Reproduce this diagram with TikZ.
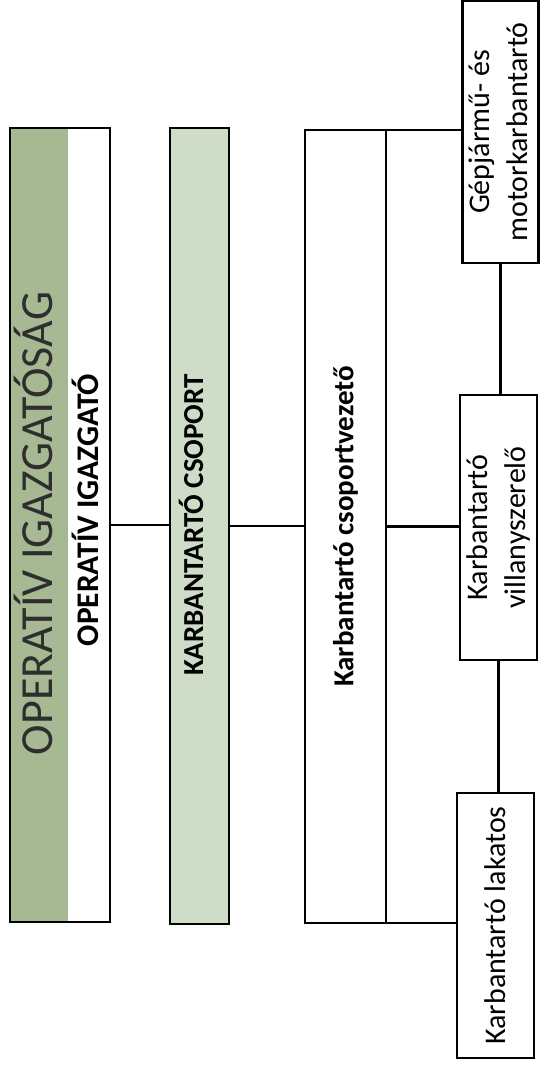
\documentclass[tikz,border=0pt]{standalone}
\usepackage{fontspec}
\setmainfont{Carlito}
\usepackage{graphicx}
\definecolor{olivegreen}{HTML}{A6B993}
\definecolor{palegreen}{HTML}{CFDCC8}
\definecolor{headtext}{HTML}{2E2E2E}
\begin{document}
\begin{tikzpicture}[x=1pt,y=-1pt,
  every node/.style={inner sep=0pt, outer sep=0pt},
  frame/.style={draw=black, line width=2.6pt},
  box/.style={frame, fill=white, align=center,
    font=\fontsize{30}{38}\selectfont},
  vlabel/.style={rotate=90, anchor=base},
  conn/.style={draw=black, line width=2.6pt}]
\useasboundingbox (0,0) rectangle (539,1067);
% OPERATIV IGAZGATOSAG
\node[fill=olivegreen, minimum width=58pt, minimum height=794pt] (strip) at (39,525) {};
\node[frame, minimum width=100pt, minimum height=794pt] (igazgatosag) at (60,525) {};
\node[vlabel, text=headtext, font=\fontsize{46}{50}\selectfont] (tIgs) at (52,523.5) {OPERATÍV IGAZGATÓSÁG};
\node[vlabel, font=\bfseries\fontsize{31.5}{36}\selectfont] (tIgo) at (98,510) {OPERATÍV IGAZGATÓ};
% KARBANTARTO CSOPORT
\node[frame, fill=palegreen, minimum width=59pt, minimum height=796pt] (csoport) at (199.5,526) {};
\node[vlabel, font=\bfseries\fontsize{29}{34}\selectfont] (tCs) at (203,525) {KARBANTARTÓ CSOPORT};
% Csoportvezeto
\node[box, minimum width=81pt, minimum height=793pt, font=\bfseries\fontsize{29}{38}\selectfont] (vezeto) at (345.5,526.5) {\rotatebox{90}{Karbantartó csoportvezető}};
% Subordinates
\node[box, minimum width=75pt, minimum height=262pt] (gep) at (500.5,132) {\rotatebox{90}{\begin{tabular}{@{}c@{}}Gépjármű- és\\motorkarbantartó\end{tabular}}};
\node[box, minimum width=77pt, minimum height=265pt] (villany) at (498.5,527.5) {\rotatebox{90}{\begin{tabular}{@{}c@{}}Karbantartó\\villanyszerelő\end{tabular}}};
\node[box, minimum width=77pt, minimum height=265pt] (lakatos) at (495.5,925.5) {\rotatebox{90}{Karbantartó lakatos}};
% connectors
\draw[conn] (igazgatosag.east) -- (igazgatosag.east -| csoport.west);
\draw[conn] (csoport.east) -- (csoport.east -| vezeto.west);
\draw[conn] (vezeto.north east) -- (vezeto.north east -| gep.west);
\draw[conn] (vezeto.east) -- (vezeto.east -| villany.west);
\draw[conn] (vezeto.south east) -- (vezeto.south east -| lakatos.west);
\draw[conn] (gep.south) -- (gep.south |- villany.north);
\draw[conn] (villany.south) -- (villany.south |- lakatos.north);
\end{tikzpicture}
\end{document}
